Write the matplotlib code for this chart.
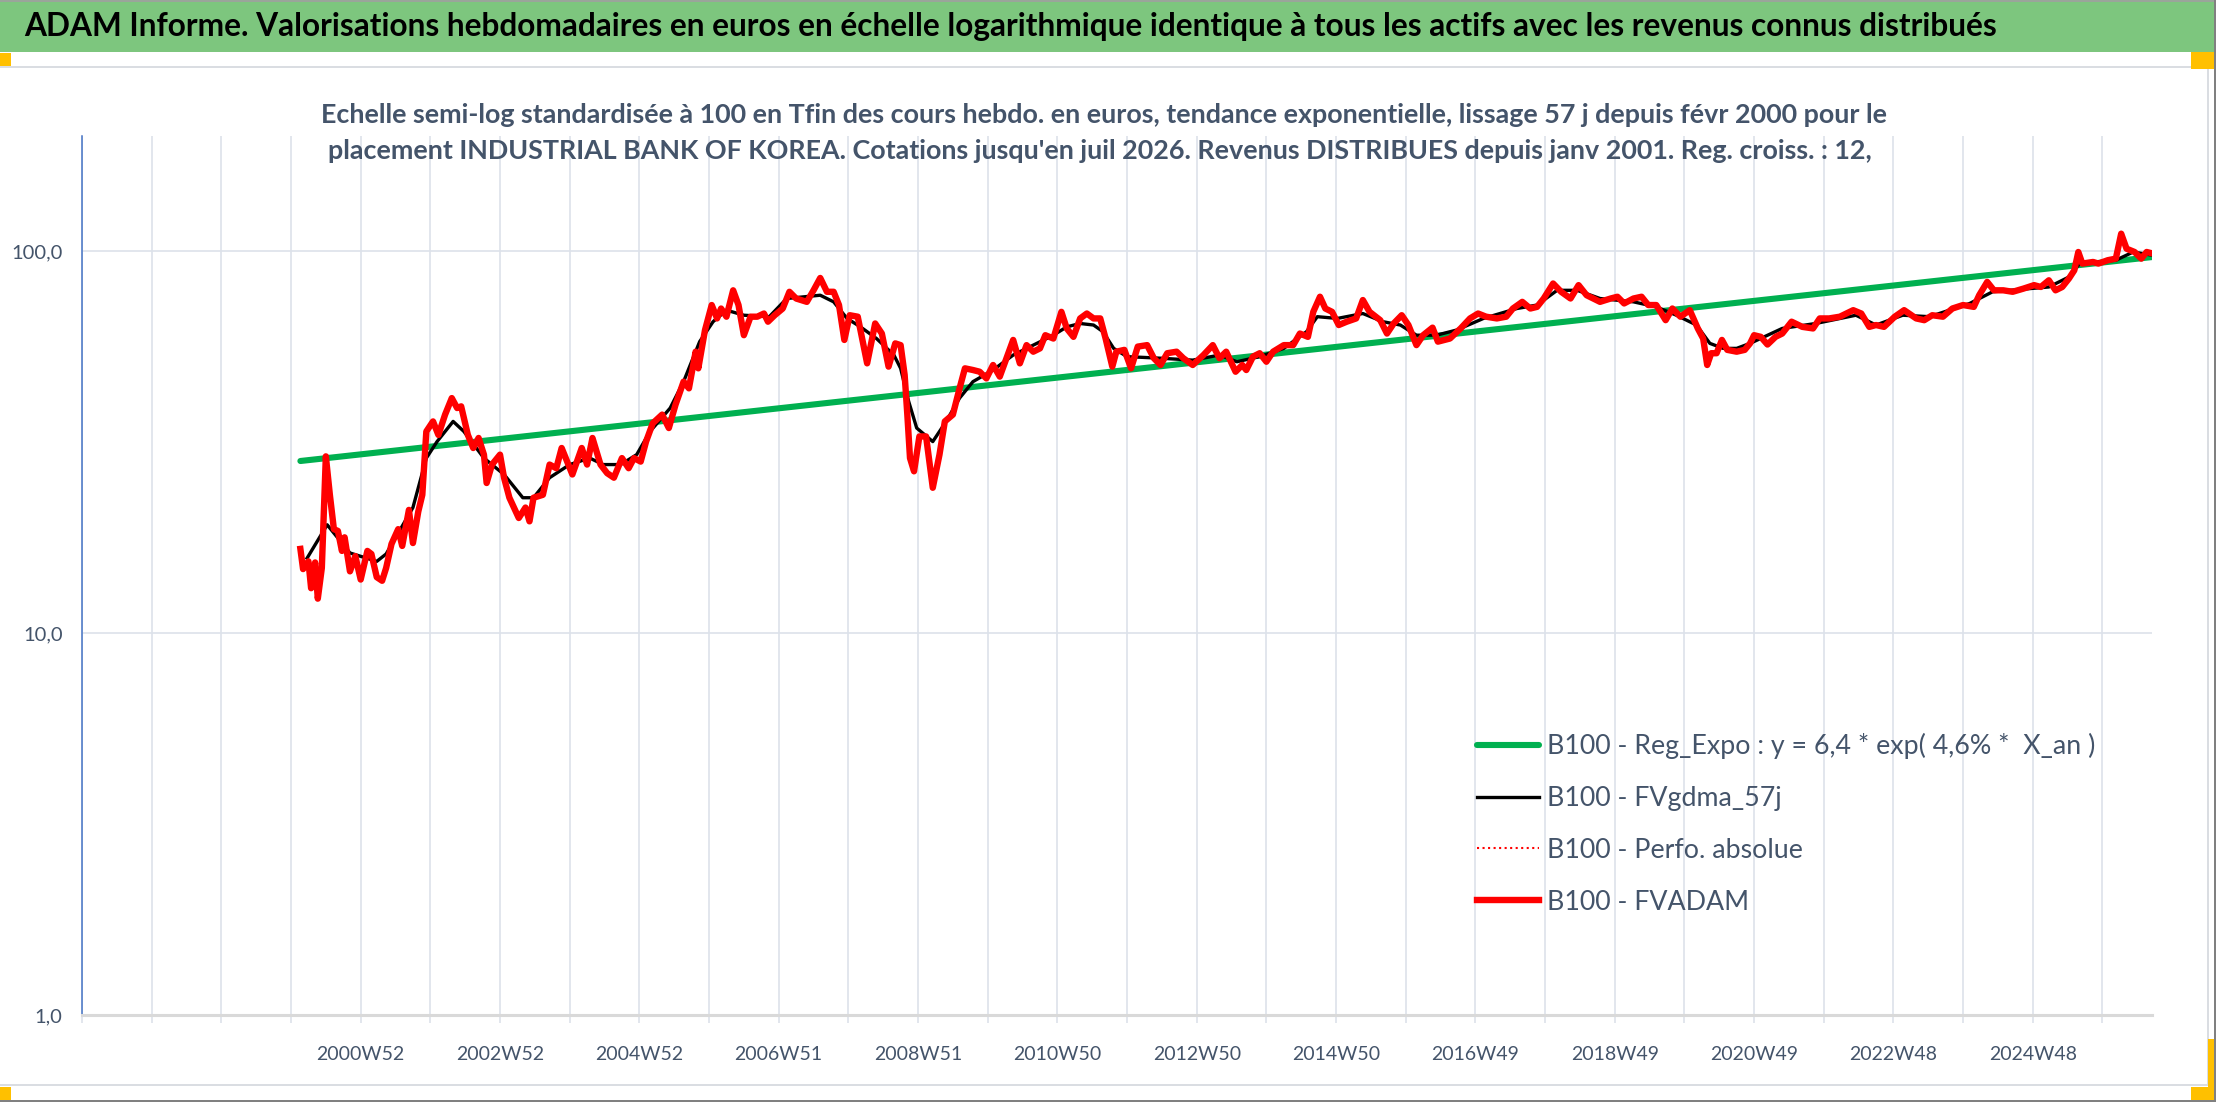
import matplotlib
matplotlib.use('Agg')
import matplotlib.pyplot as plt
import matplotlib.ticker as ticker
from matplotlib.patches import Rectangle

W, H = 2216, 1102

title = ("ADAM Informe. Valorisations hebdomadaires en euros en échelle logarithmique "
         "identique à tous les actifs avec les revenus connus distribués")
subtitle_1 = ("Echelle semi-log standardisée à 100 en Tfin des cours hebdo. en euros, tendance "
              "exponentielle, lissage 57 j depuis févr 2000 pour le")
subtitle_2 = ("placement INDUSTRIAL BANK OF KOREA. Cotations jusqu'en juil 2026. Revenus "
              "DISTRIBUES depuis janv 2001. Reg. croiss. : 12,")

tick_labels = ['2000W52', '2002W52', '2004W52', '2006W51', '2008W51', '2010W50', '2012W50',
               '2014W50', '2016W49', '2018W49', '2020W49', '2022W48', '2024W48']

legend_labels = ['B100 - Reg_Expo : y = 6,4 * exp( 4,6% *  X_an )',
                 'B100 - FVgdma_57j',
                 'B100 - Perfo. absolue',
                 'B100 - FVADAM']

# week index on the category axis
red_weeks = [163, 165, 169, 171, 174, 176, 179, 182, 185, 188, 191, 194, 196, 200, 204, 208,
             213, 216, 220, 224, 227, 231, 236, 239, 244, 247, 251, 254, 257, 262, 266, 271,
             276, 280, 283, 288, 292, 296, 300, 302, 306, 312, 315, 319, 326, 331, 334, 337,
             344, 349, 354, 358, 366, 373, 377, 381, 387, 392, 397, 403, 408, 412, 417, 421,
             426, 433, 438, 443, 449, 453, 458, 460, 465, 470, 474, 477, 481, 486, 490, 494,
             499, 504, 509, 512, 517, 523, 528, 533, 541, 546, 551, 556, 561, 565, 569, 573,
             579, 586, 592, 597, 602, 607, 611, 614, 616, 618, 621, 625, 630, 635, 640, 644,
             650, 655, 659, 665, 670, 675, 680, 685, 690, 695, 700, 705, 710, 715, 719, 725,
             731, 735, 740, 745, 750, 755, 760, 764, 769, 772, 778, 783, 788, 795, 800, 805,
             810, 817, 822, 829, 837, 844, 849, 854, 861, 866, 869, 874, 879, 884, 889, 897,
             904, 909, 915, 919, 924, 928, 933, 938, 944, 951, 956, 961, 969, 974, 979, 985,
             990, 996, 1001, 1008, 1012, 1021, 1029, 1036, 1042, 1048, 1056, 1063, 1068, 1075,
             1081, 1086, 1091, 1098, 1104, 1111, 1117, 1123, 1133, 1141, 1146, 1151, 1158,
             1164, 1169, 1175, 1182, 1187, 1193, 1200, 1206, 1210, 1213, 1216, 1220, 1224,
             1228, 1235, 1241, 1245, 1248, 1253, 1258, 1264, 1269, 1276, 1284, 1292, 1297,
             1304, 1312, 1322, 1328, 1334, 1339, 1345, 1353, 1360, 1369, 1375, 1381, 1389,
             1396, 1404, 1412, 1416, 1422, 1427, 1434, 1441, 1449, 1457, 1462, 1468, 1473,
             1478, 1483, 1487, 1490, 1493, 1501, 1505, 1512, 1518, 1522, 1526, 1532, 1537,
             1541, 1546]
red_values = [16.6, 14.7, 15.4, 13.1, 15.3, 12.3, 14.8, 29.0, 23.0, 18.7, 18.5, 16.4, 17.8,
              14.5, 15.9, 13.8, 16.4, 16.1, 14.0, 13.7, 14.8, 17.1, 18.7, 16.9, 21.0, 17.2,
              20.8, 23.0, 33.7, 35.8, 33.0, 37.3, 41.2, 38.8, 39.2, 33.0, 30.5, 32.4, 29.3,
              24.7, 27.6, 29.3, 25.5, 22.6, 20.0, 21.3, 19.6, 22.6, 23.0, 27.6, 27.0, 30.5,
              26.0, 30.5, 27.6, 32.4, 27.6, 26.2, 25.5, 28.7, 27.0, 28.7, 28.1, 31.7, 35.4,
              37.3, 34.4, 39.6, 45.5, 43.7, 54.5, 49.3, 62.1, 72.2, 66.6, 70.7, 67.3, 78.9,
              72.2, 60.2, 67.3, 67.3, 68.6, 65.3, 67.9, 70.7, 78.2, 75.1, 73.6, 78.9, 85.0,
              78.2, 78.2, 72.2, 58.5, 67.9, 67.3, 50.8, 64.6, 60.8, 49.8, 57.3, 56.7, 47.4,
              37.3, 28.7, 26.5, 32.7, 32.7, 24.0, 29.3, 35.8, 37.3, 43.7, 49.3, 48.8, 48.3,
              46.4, 50.3, 46.9, 52.4, 58.5, 50.8, 56.7, 54.5, 55.6, 60.2, 59.0, 69.3, 62.7,
              59.6, 66.6, 68.6, 66.6, 66.6, 59.0, 49.8, 54.5, 55.1, 49.3, 56.2, 56.7, 52.4,
              50.3, 54.0, 54.5, 52.4, 50.3, 53.4, 56.7, 52.4, 54.5, 48.3, 50.3, 48.8, 52.9,
              54.0, 51.3, 54.5, 56.7, 56.7, 60.8, 59.6, 69.3, 75.9, 70.7, 69.3, 64.0, 65.3,
              66.6, 74.4, 69.3, 65.9, 60.8, 64.6, 67.9, 64.0, 56.7, 60.2, 63.0, 57.9, 59.0,
              62.7, 66.6, 68.6, 67.3, 66.6, 67.3, 70.7, 73.6, 70.7, 71.4, 75.1, 82.2, 78.2,
              75.1, 81.4, 76.6, 73.6, 75.1, 75.9, 72.9, 75.1, 75.9, 72.2, 72.2, 65.9, 70.7,
              67.3, 70.0, 62.7, 59.0, 50.3, 54.0, 54.0, 58.5, 55.1, 54.5, 55.1, 57.3, 60.2,
              59.6, 56.9, 59.6, 60.8, 65.3, 63.3, 62.7, 66.6, 66.6, 67.3, 70.0, 68.6, 63.3,
              64.0, 63.3, 67.3, 70.0, 66.6, 65.9, 67.9, 67.3, 70.7, 72.2, 71.4, 76.6, 83.0,
              78.9, 78.9, 78.2, 79.7, 81.4, 80.5, 83.8, 78.9, 80.5, 84.7, 89.0, 99.4, 92.7,
              93.6, 92.7, 94.6, 95.5, 111.0, 101.4, 99.4, 95.5, 99.4, 98.4]

smooth_weeks = [168, 183, 200, 220, 227, 247, 257, 265, 277, 285, 300, 315, 329, 337, 349, 364,
                379, 389, 402, 414, 424, 439, 449, 461, 471, 481, 494, 513, 526, 551, 561, 571,
                581, 593, 606, 611, 617, 623, 635, 645, 655, 665, 680, 695, 710, 725, 735, 745,
                755, 762, 770, 780, 805, 829, 849, 862, 879, 897, 914, 922, 937, 956, 971, 984,
                996, 1011, 1026, 1046, 1071, 1086, 1101, 1116, 1133, 1158, 1175, 1190, 1205,
                1215, 1225, 1235, 1245, 1269, 1294, 1324, 1339, 1359, 1379, 1409, 1426, 1468,
                1483, 1491, 1518, 1531, 1546]
smooth_values = [15.7, 19.2, 16.2, 15.4, 16.1, 21.3, 28.7, 31.7, 35.8, 33.7, 28.7, 26.0, 22.6,
                 22.6, 25.5, 27.6, 28.7, 27.6, 27.6, 29.3, 33.7, 38.8, 45.5, 57.9, 65.3, 70.0,
                 67.9, 67.3, 75.1, 76.6, 73.6, 66.6, 63.3, 59.0, 53.4, 49.3, 40.4, 34.4, 31.7,
                 35.8, 41.2, 45.5, 48.8, 53.4, 56.7, 60.2, 63.3, 64.6, 64.0, 61.5, 55.6, 52.9,
                 52.4, 51.8, 53.4, 51.3, 52.9, 55.6, 61.5, 67.3, 66.6, 68.6, 65.3, 64.0, 60.2,
                 60.2, 62.1, 66.6, 70.7, 72.2, 78.9, 78.9, 75.1, 73.6, 71.4, 67.9, 64.0, 57.3,
                 55.6, 55.6, 57.3, 62.7, 64.6, 67.9, 64.0, 67.9, 67.3, 72.9, 78.2, 80.5, 85.5,
                 92.7, 94.6, 99.4, 97.4]

trend_weeks = [163, 1546]
trend_values = [28.2, 96.5]

FONT = 'Lato'
SLATE = '#44546A'
GRID = '#DDE2EA'


def px_rect(fig, x, y, w, h, color):
    """ rectangle given in pixels from the top left corner """
    fig.add_artist(Rectangle((x / W, 1 - (y + h) / H), w / W, h / H,
                             transform=fig.transFigure, color=color, lw=0, zorder=0))


def decorate(fig):
    px_rect(fig, 0, 0, W, 52, '#7DC67E')
    px_rect(fig, 0, 0, W, 2, '#9AA59A')
    # chart area frame
    px_rect(fig, 0, 66, 2209, 2, '#DADDE2')
    px_rect(fig, 0, 1084, 2209, 2, '#DADDE2')
    px_rect(fig, 2207, 66, 2, 1020, '#DADDE2')
    # orange handles
    orange = '#FFC000'
    px_rect(fig, 0, 53, 11, 13, orange)
    px_rect(fig, 2191, 52, 23, 17, orange)
    px_rect(fig, 0, 1087, 11, 13, orange)
    px_rect(fig, 2191, 1087, 23, 13, orange)
    px_rect(fig, 2208, 1039, 6, 61, orange)
    px_rect(fig, 2214, 0, 2, H, '#808080')
    px_rect(fig, 0, 1100, W, 2, '#808080')


def main():
    fig = plt.figure(figsize=(W / 100, H / 100), dpi=100)
    decorate(fig)
    ax = fig.add_axes([82 / W, 1 - 1015 / H, (2152 - 82) / W, (1015 - 136) / H])
    ax.set_facecolor('none')

    ax.plot(trend_weeks, trend_values, color='#00B050', lw=4.4, solid_capstyle='round',
            label=legend_labels[0], zorder=3)
    ax.plot(smooth_weeks, smooth_values, color='black', lw=2.4, label=legend_labels[1], zorder=4)
    ax.plot([], [], color='red', lw=1.5, ls=':', label=legend_labels[2])
    ax.plot(red_weeks, red_values, color='#FF0000', lw=4.6, label=legend_labels[3], zorder=5)

    ax.set_yscale('log')
    ax.set_ylim(1, 200)
    ax.set_xlim(0, 1545)
    ax.yaxis.set_major_locator(ticker.FixedLocator([1, 10, 100]))
    ax.yaxis.set_minor_locator(ticker.NullLocator())
    ax.yaxis.set_major_formatter(ticker.FuncFormatter(lambda v, p: f'{v:.1f}'.replace('.', ',')))

    grid_weeks = list(range(0, 1509, 52))
    label_weeks = [208 + 104 * i for i in range(len(tick_labels))]
    names = dict(zip(label_weeks, tick_labels))
    ax.set_xticks(grid_weeks)
    ax.set_xticklabels([names.get(w, '') for w in grid_weeks])
    ax.xaxis.set_minor_locator(ticker.NullLocator())

    ax.grid(True, which='major', color=GRID, lw=1.2, zorder=0)
    ax.set_axisbelow(True)
    ax.tick_params(axis='x', length=6, width=1.2, color=GRID, pad=16,
                   labelsize=14, labelcolor=SLATE)
    ax.tick_params(axis='y', length=0, pad=14, labelsize=14.5, labelcolor=SLATE)
    for lab in ax.get_xticklabels() + ax.get_yticklabels():
        lab.set_family(FONT)

    for side in ['top', 'right']:
        ax.spines[side].set_visible(False)
    ax.spines['left'].set_color('#4472C4')
    ax.spines['left'].set_linewidth(1.1)
    ax.spines['bottom'].set_color('#D9D9D9')
    ax.spines['bottom'].set_linewidth(2.2)

    leg = ax.legend(loc='upper left', bbox_to_anchor=(1477 / W, 1 - 733 / H),
                    bbox_transform=fig.transFigure, frameon=False, borderpad=0,
                    borderaxespad=0, handlelength=2.3, handletextpad=0.3,
                    labelspacing=1.0, prop={'family': FONT, 'size': 19.3})
    for txt in leg.get_texts():
        txt.set_color(SLATE)

    fig.text(24 / W, 1 - 36 / H, title, ha='left', va='baseline', fontsize=22.8,
             fontweight='bold', family=FONT, color='black')
    fig.text(1104 / W, 1 - 123 / H, subtitle_1, ha='center', va='baseline', fontsize=19.4,
             fontweight='bold', family=FONT, color=SLATE)
    fig.text(1100 / W, 1 - 159 / H, subtitle_2, ha='center', va='baseline', fontsize=19.4,
             fontweight='bold', family=FONT, color=SLATE)

    fig.savefig('out.png', dpi=100, facecolor='white')


if __name__ == '__main__':
    main()
